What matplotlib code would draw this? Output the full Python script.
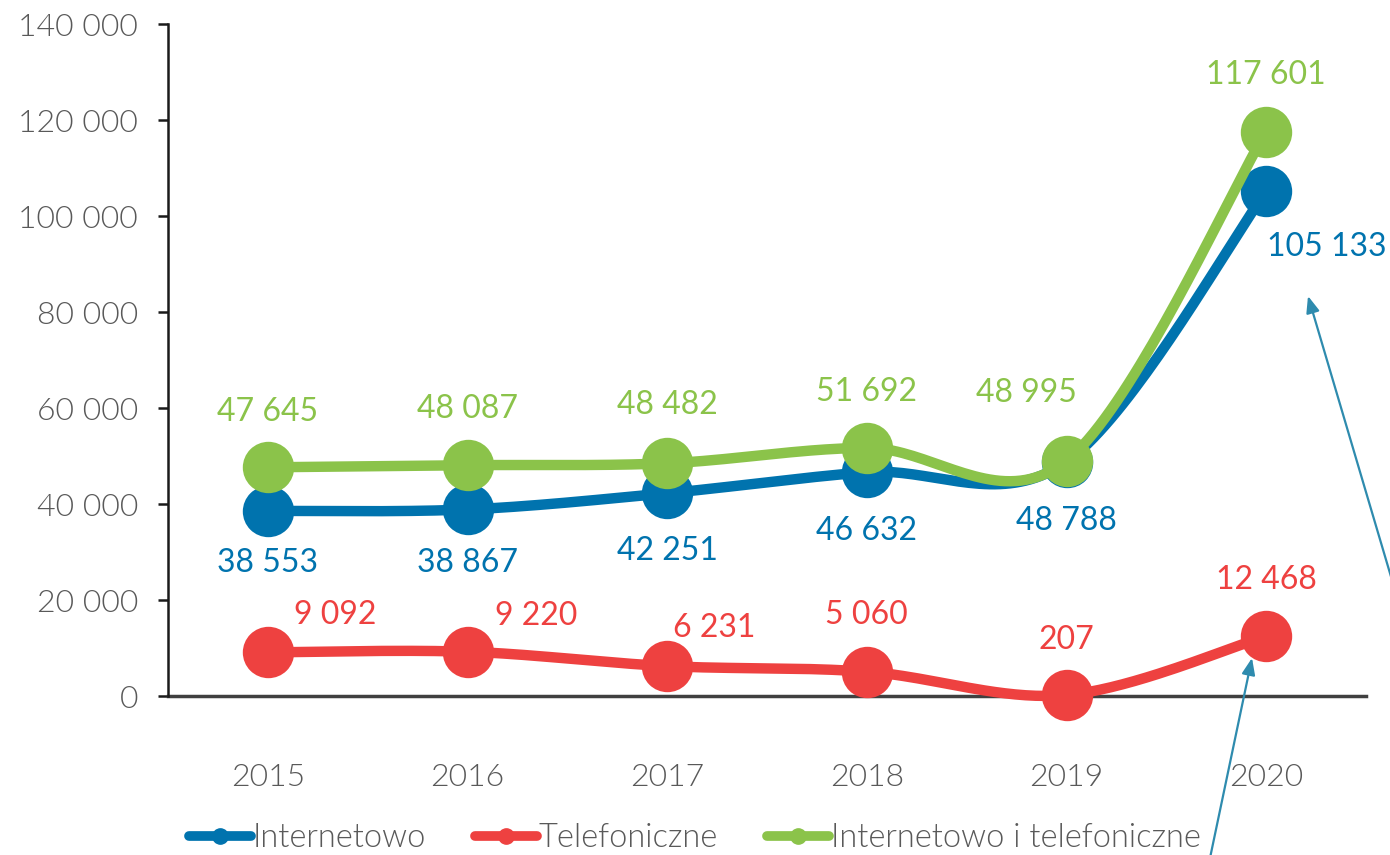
import numpy as np
import matplotlib
matplotlib.use("Agg")
import matplotlib.pyplot as plt
from matplotlib.lines import Line2D

# ---- data ----
years = ["2015", "2016", "2017", "2018", "2019", "2020"]
internetowo = [38553, 38867, 42251, 46632, 48788, 105133]
telefonicznie = [9092, 9220, 6231, 5060, 207, 12468]
oba = [47645, 48087, 48482, 51692, 48995, 117601]
series_names = ["Internetowo", "Telefoniczne", "Internetowo i telefoniczne"]
yticks = [0, 20000, 40000, 60000, 80000, 100000, 120000, 140000]

# ---- style ----
colors = ["#0073AE", "#EE4140", "#8BC34A"]
gray = "#595959"
arrow_col = "#2E8BAE"
plt.rcParams["font.family"] = ["Lato", "DejaVu Sans"]

# label offsets in pixels (dx, dy) relative to point (display coords, y up)
off_blue = [(0, -52), (0, -54), (0, -58), (0, -59), (0, -59), (61, -56)]
off_red = [(67, 37), (69, 36), (47, 38), (0, 57), (0, 55), (0, 56)]
off_green = [(0, 55), (0, 56), (0, 58), (0, 56), (-40, 68), (0, 57)]


def smooth(xs, ys, n=40):
    xs = np.asarray(xs, float); ys = np.asarray(ys, float)
    P = np.column_stack([xs, ys])
    out = []
    m = len(P)
    for i in range(m - 1):
        p0 = P[i - 1] if i > 0 else P[i]
        p1 = P[i]
        p2 = P[i + 1]
        p3 = P[i + 2] if i + 2 < m else P[i + 1]
        c1 = p1 + (p2 - p0) / 6.0
        c2 = p2 - (p3 - p1) / 6.0
        t = np.linspace(0, 1, n)[:, None]
        seg = ((1 - t) ** 3) * p1 + 3 * ((1 - t) ** 2) * t * c1 + 3 * (1 - t) * t ** 2 * c2 + t ** 3 * p2
        out.append(seg if i == 0 else seg[1:])
    s = np.vstack(out)
    return s[:, 0], s[:, 1]


def fmt(v):
    return f"{v:,}".replace(",", " ")


fig = plt.figure(figsize=(13.9, 8.55), dpi=100)
ax = fig.add_axes([168 / 1390, 1 - 696 / 855, (1366 - 168) / 1390, (696 - 24) / 855])
x = np.arange(len(years))
ax.set_xlim(-0.5, len(years) - 0.5)
ax.set_ylim(0, 140000)

data = [internetowo, telefonicznie, oba]
offs = [off_blue, off_red, off_green]
for k, (vals, col, off) in enumerate(zip(data, colors, offs)):
    sx, sy = smooth(x, vals)
    ax.plot(sx, sy, color=col, lw=7.5, solid_capstyle="round", zorder=3 + k, clip_on=False)
    ax.plot(x, vals, "o", color=col, ms=37, mec=col, mew=0, zorder=3 + k, clip_on=False)
    for xi, v, (dx, dy) in zip(x, vals, off):
        ax.annotate(fmt(v), (xi, v), xytext=(dx * 0.72, dy * 0.72), textcoords="offset points",
                    ha="center", va="center", fontsize=23, color=col, zorder=10,
                    annotation_clip=False)

# axes styling
for s in ["top", "right"]:
    ax.spines[s].set_visible(False)
ax.spines["left"].set_color("#1a1a1a")
ax.spines["left"].set_linewidth(1.8)
ax.spines["bottom"].set_color("#404040")
ax.spines["bottom"].set_linewidth(2.5)
ax.spines["bottom"].set_zorder(2)
ax.set_yticks(yticks)
ax.set_yticklabels([fmt(v) for v in yticks])
ax.set_xticks(x)
ax.set_xticklabels(years)
ax.tick_params(axis="y", length=7.5, width=1.8, color="#1a1a1a", pad=14,
               labelsize=23, labelcolor=gray)
ax.tick_params(axis="x", length=0, pad=48, labelsize=23, labelcolor=gray)
for lab in ax.get_yticklabels() + ax.get_xticklabels():
    lab.set_fontweight(300)

# legend
handles = [Line2D([0], [0], color=c, lw=7, marker="o", ms=11, solid_capstyle="round")
           for c in colors]
leg = fig.legend(handles, series_names, loc="center", bbox_to_anchor=(0.5, 1 - 838 / 855),
                 ncol=3, frameon=False, fontsize=23.5, handlelength=1.9, handletextpad=0.05,
                 columnspacing=1.5, borderpad=0)
for t in leg.get_texts():
    t.set_color(gray)
    t.set_fontweight(300)

# arrows (figure pixel coords)
def fig_arrow(x0, y0, x1, y1):
    fig.add_artist(matplotlib.patches.FancyArrowPatch(
        (x0 / 1390, 1 - y0 / 855), (x1 / 1390, 1 - y1 / 855), transform=fig.transFigure,
        arrowstyle="-|>,head_length=10,head_width=4", color=arrow_col, lw=1.6,
        mutation_scale=1, shrinkA=0, shrinkB=0, zorder=20))

fig_arrow(1392, 580, 1308, 296)
fig_arrow(1210, 858, 1252, 658)

fig.savefig("out.png", dpi=100)
